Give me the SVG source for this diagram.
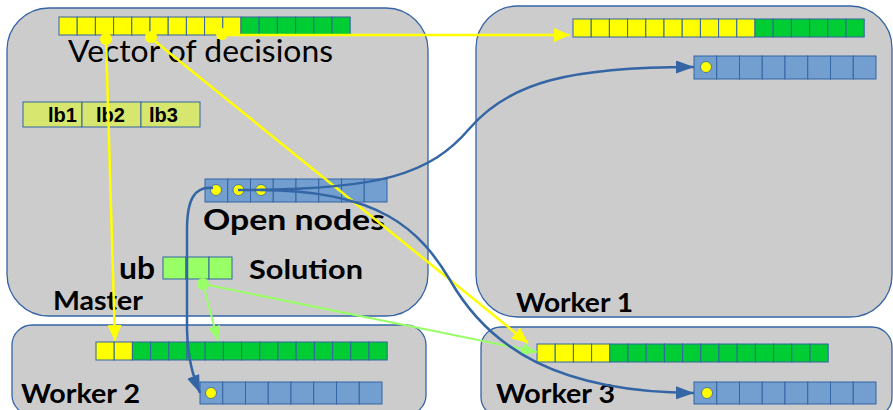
<svg xmlns="http://www.w3.org/2000/svg" width="893" height="410" viewBox="0 0 893 410">
  <style>
    .box { fill: #cccccc; stroke: #3465a4; stroke-width: 1.3; }
    .y { fill: #ffff00; stroke: #3465a4; stroke-width: 1; }
    .g { fill: #00cc33; stroke: #3465a4; stroke-width: 1; }
    .o { fill: #729fcf; stroke: #3465a4; stroke-width: 1; }
    .lb { fill: #d7e66e; stroke: #3465a4; stroke-width: 1; }
    .sol { fill: #99ff66; stroke: #3465a4; stroke-width: 1; }
    .dot { fill: #ffff00; stroke: #3465a4; stroke-width: 0.8; }
    .title { font-family: Lato, "Liberation Sans", sans-serif; font-weight: bold; fill: #000; }
    .yl { stroke: #ffff00; stroke-width: 2.5; fill: none; }
    .gl { stroke: #99ff66; stroke-width: 2; fill: none; }
    .bl { stroke: #3465a4; stroke-width: 2.5; fill: none; }
  </style>
  <defs>
    <marker id="ay" viewBox="0 0 10 10" refX="10" refY="5" markerWidth="16" markerHeight="14" markerUnits="userSpaceOnUse" orient="auto" preserveAspectRatio="none">
      <path d="M0,0 L10,5 L0,10 z" fill="#ffff00"/>
    </marker>
    <marker id="ag" viewBox="0 0 10 10" refX="10" refY="5" markerWidth="15" markerHeight="12" markerUnits="userSpaceOnUse" orient="auto" preserveAspectRatio="none">
      <path d="M0,0 L10,5 L0,10 z" fill="#99ff66"/>
    </marker>
    <marker id="ab" viewBox="0 0 10 10" refX="10" refY="5" markerWidth="18" markerHeight="13" markerUnits="userSpaceOnUse" orient="auto" preserveAspectRatio="none">
      <path d="M0,0 L10,5 L0,10 z" fill="#3465a4"/>
    </marker>
  </defs>

  <!-- Master -->
  <g id="master">
    <rect class="box" x="7" y="8" width="421" height="308" rx="42" ry="42"/>
    <g id="master-decisions">
      <rect class="y" x="59" y="17" width="18.2" height="18"/>
      <rect class="y" x="77.2" y="17" width="18.2" height="18"/>
      <rect class="y" x="95.4" y="17" width="18.2" height="18"/>
      <rect class="y" x="113.6" y="17" width="18.2" height="18"/>
      <rect class="y" x="131.8" y="17" width="18.2" height="18"/>
      <rect class="y" x="150" y="17" width="18.2" height="18"/>
      <rect class="y" x="168.2" y="17" width="18.2" height="18"/>
      <rect class="y" x="186.4" y="17" width="18.2" height="18"/>
      <rect class="y" x="204.6" y="17" width="18.2" height="18"/>
      <rect class="y" x="222.8" y="17" width="18.2" height="18"/>
      <rect class="g" x="241" y="17" width="18.2" height="18"/>
      <rect class="g" x="259.2" y="17" width="18.2" height="18"/>
      <rect class="g" x="277.4" y="17" width="18.2" height="18"/>
      <rect class="g" x="295.6" y="17" width="18.2" height="18"/>
      <rect class="g" x="313.8" y="17" width="18.2" height="18"/>
      <rect class="g" x="332" y="17" width="18.2" height="18"/>
    </g>
    <text x="68" y="62" font-family="Lato, 'Liberation Sans', sans-serif" font-size="31" fill="#000" textLength="265" lengthAdjust="spacingAndGlyphs">Vector of decisions</text>
    <g id="lower-bounds">
      <rect class="lb" x="23" y="102" width="59" height="25"/>
      <rect class="lb" x="82" y="102" width="59" height="25"/>
      <rect class="lb" x="141" y="102" width="59" height="25"/>
      <g font-family="'Liberation Sans', Arial, sans-serif" font-weight="bold" font-size="20" fill="#000">
        <text x="48" y="122" textLength="29" lengthAdjust="spacingAndGlyphs">lb1</text>
        <text x="96" y="122" textLength="29" lengthAdjust="spacingAndGlyphs">lb2</text>
        <text x="149" y="122" textLength="29" lengthAdjust="spacingAndGlyphs">lb3</text>
      </g>
    </g>
    <g id="master-open">
      <rect class="o" x="205" y="179" width="22.75" height="23"/>
      <rect class="o" x="227.75" y="179" width="22.75" height="23"/>
      <rect class="o" x="250.5" y="179" width="22.75" height="23"/>
      <rect class="o" x="273.25" y="179" width="22.75" height="23"/>
      <rect class="o" x="296" y="179" width="22.75" height="23"/>
      <rect class="o" x="318.75" y="179" width="22.75" height="23"/>
      <rect class="o" x="341.5" y="179" width="22.75" height="23"/>
      <rect class="o" x="364.25" y="179" width="22.75" height="23"/>
      <circle class="dot" cx="216" cy="190" r="5.5"/>
      <circle class="dot" cx="238.5" cy="190" r="5.5"/>
      <circle class="dot" cx="261" cy="190" r="5.5"/>
    </g>
    <text class="title" x="203" y="230" font-size="29" textLength="182" lengthAdjust="spacingAndGlyphs">Open nodes</text>
    <text class="title" x="119" y="279" font-size="30" textLength="36" lengthAdjust="spacingAndGlyphs">ub</text>
    <g id="solution">
      <rect class="sol" x="163" y="257" width="23" height="22"/>
      <rect class="sol" x="186" y="257" width="23" height="22"/>
      <rect class="sol" x="209" y="257" width="23" height="22"/>
    </g>
    <text class="title" x="249" y="279" font-size="27" textLength="114" lengthAdjust="spacingAndGlyphs">Solution</text>
    <text class="title" x="53" y="310" font-size="27" textLength="90" lengthAdjust="spacingAndGlyphs">Master</text>
  </g>

  <!-- Worker 1 -->
  <g id="worker1">
    <rect class="box" x="476" y="6" width="416" height="311" rx="42" ry="42"/>
    <rect class="y" x="573" y="19" width="18.2" height="18"/>
    <rect class="y" x="591.2" y="19" width="18.2" height="18"/>
    <rect class="y" x="609.4" y="19" width="18.2" height="18"/>
    <rect class="y" x="627.6" y="19" width="18.2" height="18"/>
    <rect class="y" x="645.8" y="19" width="18.2" height="18"/>
    <rect class="y" x="664" y="19" width="18.2" height="18"/>
    <rect class="y" x="682.2" y="19" width="18.2" height="18"/>
    <rect class="y" x="700.4" y="19" width="18.2" height="18"/>
    <rect class="y" x="718.6" y="19" width="18.2" height="18"/>
    <rect class="y" x="736.8" y="19" width="18.2" height="18"/>
    <rect class="g" x="755" y="19" width="18.2" height="18"/>
    <rect class="g" x="773.2" y="19" width="18.2" height="18"/>
    <rect class="g" x="791.4" y="19" width="18.2" height="18"/>
    <rect class="g" x="809.6" y="19" width="18.2" height="18"/>
    <rect class="g" x="827.8" y="19" width="18.2" height="18"/>
    <rect class="g" x="846" y="19" width="18.2" height="18"/>
    <rect class="o" x="694" y="56" width="22.75" height="23"/>
    <rect class="o" x="716.75" y="56" width="22.75" height="23"/>
    <rect class="o" x="739.5" y="56" width="22.75" height="23"/>
    <rect class="o" x="762.25" y="56" width="22.75" height="23"/>
    <rect class="o" x="785" y="56" width="22.75" height="23"/>
    <rect class="o" x="807.75" y="56" width="22.75" height="23"/>
    <rect class="o" x="830.5" y="56" width="22.75" height="23"/>
    <rect class="o" x="853.25" y="56" width="22.75" height="23"/>
    <circle class="dot" cx="706" cy="67" r="5.5"/>
    <text class="title" x="516" y="312" font-size="27" textLength="117" lengthAdjust="spacingAndGlyphs">Worker 1</text>
  </g>

  <!-- Worker 2 -->
  <g id="worker2">
    <rect class="box" x="12" y="325" width="414" height="90" rx="20" ry="20"/>
    <rect class="y" x="96" y="342" width="18.2" height="18"/>
    <rect class="y" x="114.2" y="342" width="18.2" height="18"/>
    <rect class="g" x="132.4" y="342" width="18.2" height="18"/>
    <rect class="g" x="150.6" y="342" width="18.2" height="18"/>
    <rect class="g" x="168.8" y="342" width="18.2" height="18"/>
    <rect class="g" x="187" y="342" width="18.2" height="18"/>
    <rect class="g" x="205.2" y="342" width="18.2" height="18"/>
    <rect class="g" x="223.4" y="342" width="18.2" height="18"/>
    <rect class="g" x="241.6" y="342" width="18.2" height="18"/>
    <rect class="g" x="259.8" y="342" width="18.2" height="18"/>
    <rect class="g" x="278" y="342" width="18.2" height="18"/>
    <rect class="g" x="296.2" y="342" width="18.2" height="18"/>
    <rect class="g" x="314.4" y="342" width="18.2" height="18"/>
    <rect class="g" x="332.6" y="342" width="18.2" height="18"/>
    <rect class="g" x="350.8" y="342" width="18.2" height="18"/>
    <rect class="g" x="369" y="342" width="18.2" height="18"/>
    <rect class="o" x="200" y="382" width="22.75" height="22"/>
    <rect class="o" x="222.75" y="382" width="22.75" height="22"/>
    <rect class="o" x="245.5" y="382" width="22.75" height="22"/>
    <rect class="o" x="268.25" y="382" width="22.75" height="22"/>
    <rect class="o" x="291" y="382" width="22.75" height="22"/>
    <rect class="o" x="313.75" y="382" width="22.75" height="22"/>
    <rect class="o" x="336.5" y="382" width="22.75" height="22"/>
    <rect class="o" x="359.25" y="382" width="22.75" height="22"/>
    <circle class="dot" cx="211" cy="393" r="5.5"/>
    <text class="title" x="21" y="403" font-size="27" textLength="119" lengthAdjust="spacingAndGlyphs">Worker 2</text>
  </g>

  <!-- Worker 3 -->
  <g id="worker3">
    <rect class="box" x="481" y="327" width="411" height="90" rx="20" ry="20"/>
    <rect class="y" x="537" y="344" width="18.2" height="18"/>
    <rect class="y" x="555.2" y="344" width="18.2" height="18"/>
    <rect class="y" x="573.4" y="344" width="18.2" height="18"/>
    <rect class="y" x="591.6" y="344" width="18.2" height="18"/>
    <rect class="g" x="609.8" y="344" width="18.2" height="18"/>
    <rect class="g" x="628" y="344" width="18.2" height="18"/>
    <rect class="g" x="646.2" y="344" width="18.2" height="18"/>
    <rect class="g" x="664.4" y="344" width="18.2" height="18"/>
    <rect class="g" x="682.6" y="344" width="18.2" height="18"/>
    <rect class="g" x="700.8" y="344" width="18.2" height="18"/>
    <rect class="g" x="719" y="344" width="18.2" height="18"/>
    <rect class="g" x="737.2" y="344" width="18.2" height="18"/>
    <rect class="g" x="755.4" y="344" width="18.2" height="18"/>
    <rect class="g" x="773.6" y="344" width="18.2" height="18"/>
    <rect class="g" x="791.8" y="344" width="18.2" height="18"/>
    <rect class="g" x="810" y="344" width="18.2" height="18"/>
    <rect class="o" x="694" y="382" width="22.75" height="22"/>
    <rect class="o" x="716.75" y="382" width="22.75" height="22"/>
    <rect class="o" x="739.5" y="382" width="22.75" height="22"/>
    <rect class="o" x="762.25" y="382" width="22.75" height="22"/>
    <rect class="o" x="785" y="382" width="22.75" height="22"/>
    <rect class="o" x="807.75" y="382" width="22.75" height="22"/>
    <rect class="o" x="830.5" y="382" width="22.75" height="22"/>
    <rect class="o" x="853.25" y="382" width="22.75" height="22"/>
    <circle class="dot" cx="707" cy="393" r="5.5"/>
    <text class="title" x="496" y="403" font-size="27" textLength="119" lengthAdjust="spacingAndGlyphs">Worker 3</text>
  </g>

  <!-- Connectors -->
  <g id="connectors">
    <!-- decision prefixes sent to workers -->
    <path class="yl" d="M222,35 L570,35" marker-end="url(#ay)"/>
    <path class="yl" d="M106,39 L115,341" marker-end="url(#ay)"/>
    <path class="yl" d="M151,38 L528,343" marker-end="url(#ay)"/>
    <circle cx="106" cy="39" r="6" fill="#ffff00"/>
    <circle cx="151" cy="37" r="6" fill="#ffff00"/>
    <circle cx="222" cy="34" r="6" fill="#ffff00"/>
    <!-- incumbent upper bound sent to workers -->
    <path class="gl" d="M203,284 L218,341" marker-end="url(#ag)"/>
    <path class="gl" d="M203,284 L537,352" marker-end="url(#ag)"/>
    <circle cx="203" cy="284" r="6" fill="#99ff66"/>
    <!-- open nodes distributed to workers -->
    <path class="bl" d="M238,190 C380,190 430,175 470,128 C510,82 570,67 694,67" marker-end="url(#ab)"/>
    <path class="bl" d="M260,190 C380,190 420,230 450,280 C490,350 560,392 694,393" marker-end="url(#ab)"/>
    <path class="bl" d="M213,188 C194,186 187,200 187,230 L187,330 C188,360 193,376 200,393" marker-end="url(#ab)"/>
  </g>
</svg>
